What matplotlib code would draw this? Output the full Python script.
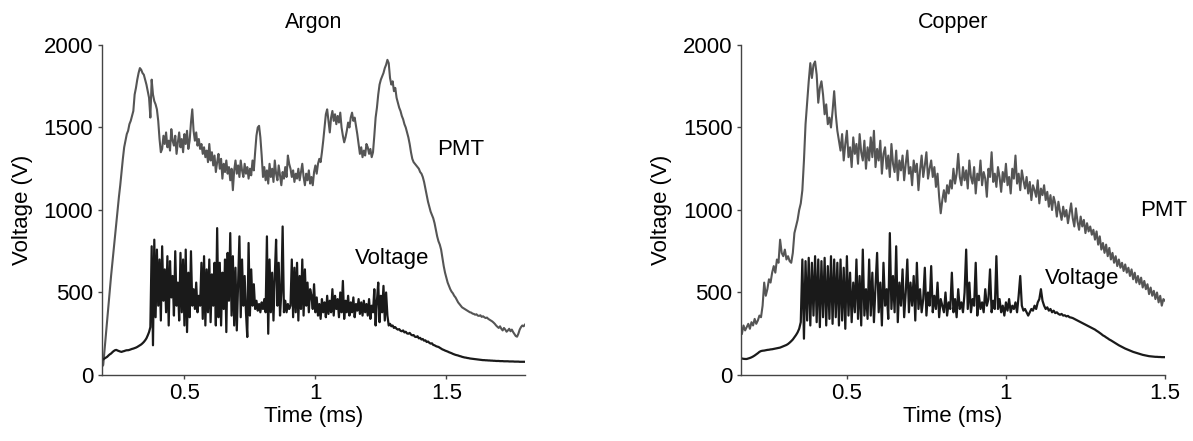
import numpy as np
import matplotlib
matplotlib.use("Agg")
import matplotlib.pyplot as plt
from matplotlib.ticker import FormatStrFormatter

plt.rcParams['font.family'] = ['Liberation Sans', 'DejaVu Sans']

# sampling: one value every 5 us
step = 0.005
argon_t0 = 0.185
copper_t0 = 0.17

# Argon, PMT signal (one row = 0.1 ms)
argon_pmt = [
    50, 60, 150, 240, 330, 420, 510, 600, 680, 760, 840, 920, 1000, 1080, 1150, 1230, 1310, 1380, 1420, 1460,
    1480, 1520, 1540, 1570, 1600, 1700, 1740, 1790, 1830, 1860, 1850, 1830, 1820, 1790, 1760, 1720, 1680, 1560, 1790, 1700,
    1660, 1640, 1610, 1540, 1430, 1350, 1370, 1450, 1400, 1470, 1380, 1420, 1360, 1490, 1420, 1390, 1450, 1340, 1410, 1470,
    1380, 1430, 1350, 1460, 1400, 1480, 1370, 1420, 1530, 1610, 1480, 1420, 1470, 1390, 1430, 1370, 1400, 1340, 1380, 1320,
    1360, 1290, 1400, 1300, 1350, 1270, 1330, 1230, 1290, 1340, 1250, 1310, 1190, 1280, 1230, 1300, 1220, 1260, 1180, 1250,
    1120, 1240, 1300, 1220, 1270, 1200, 1300, 1240, 1200, 1280, 1220, 1260, 1190, 1250, 1210, 1300, 1240, 1350, 1450, 1500,
    1510, 1440, 1330, 1200, 1260, 1180, 1240, 1160, 1280, 1200, 1250, 1170, 1300, 1220, 1180, 1270, 1210, 1150, 1230, 1190,
    1260, 1200, 1330, 1280, 1250, 1200, 1240, 1170, 1220, 1190, 1250, 1180, 1230, 1280, 1200, 1150, 1220, 1180, 1240, 1160,
    1200, 1150, 1230, 1270, 1220, 1280, 1310, 1290, 1350, 1420, 1500, 1580, 1610, 1540, 1470, 1560, 1600, 1540, 1580, 1520,
    1570, 1530, 1590, 1500, 1450, 1410, 1440, 1480, 1530, 1500, 1560, 1590, 1540, 1560, 1510, 1460, 1400, 1340, 1380, 1320,
    1360, 1330, 1400, 1380, 1340, 1370, 1320, 1350, 1450, 1560, 1620, 1700, 1760, 1790, 1810, 1830, 1860, 1880, 1910, 1890,
    1800, 1760, 1780, 1720, 1740, 1680, 1650, 1620, 1600, 1570, 1550, 1520, 1500, 1470, 1440, 1400, 1350, 1310, 1290, 1280,
    1270, 1260, 1250, 1230, 1220, 1200, 1170, 1130, 1090, 1050, 1020, 990, 970, 950, 920, 880, 840, 810, 790, 760,
    710, 660, 620, 590, 560, 540, 520, 505, 495, 480, 470, 455, 440, 430, 420, 410, 405, 400, 395, 390,
    385, 380, 378, 372, 370, 365, 368, 360, 358, 362, 352, 356, 350, 345, 348, 340, 335, 330, 325, 318,
    310, 300, 292, 285, 295, 280, 270, 285, 275, 262, 270, 280, 265, 275, 260, 248, 236, 232, 250, 275,
    290, 300, 295, 305,
]

# Argon, discharge voltage
argon_volt = [
    90, 95, 100, 105, 110, 118, 125, 130, 138, 145, 150, 152, 148, 145, 142, 140, 143, 145, 148, 150,
    150, 152, 155, 158, 160, 163, 166, 170, 175, 180, 185, 192, 200, 210, 222, 240, 260, 290, 780, 180,
    820, 350, 760, 420, 700, 330, 780, 450, 640, 380, 720, 300, 690, 470, 600, 360, 750, 420, 560, 330,
    740, 380, 700, 300, 760, 260, 620, 350, 750, 420, 520, 400, 560, 380, 480, 420, 680, 340, 720, 300,
    640, 380, 700, 320, 610, 420, 680, 300, 890, 350, 680, 300, 620, 400, 700, 260, 740, 450, 860, 360,
    720, 300, 650, 270, 560, 840, 350, 700, 420, 600, 380, 230, 800, 360, 640, 420, 550, 400, 450, 390,
    430, 380, 440, 400, 460, 380, 840, 250, 700, 380, 620, 330, 600, 820, 420, 680, 360, 500, 900, 380,
    450, 380, 430, 400, 420, 700, 350, 650, 380, 680, 330, 600, 400, 700, 360, 640, 420, 560, 380, 520,
    480, 400, 550, 380, 470, 360, 430, 340, 460, 380, 440, 350, 480, 370, 450, 380, 520, 360, 480, 400,
    460, 350, 500, 380, 570, 340, 450, 380, 480, 360, 440, 380, 470, 350, 430, 390, 460, 370, 440, 360,
    450, 380, 430, 360, 460, 340, 420, 380, 520, 300, 450, 560, 320, 480, 380, 540, 330, 500, 360, 300,
    310, 295, 300, 285, 290, 280, 275, 278, 268, 265, 270, 258, 262, 252, 250, 255, 245, 240, 242, 232,
    230, 235, 222, 225, 215, 218, 208, 210, 200, 203, 195, 190, 192, 182, 180, 175, 172, 170, 165, 160,
    155, 152, 148, 145, 142, 138, 135, 132, 128, 125, 122, 120, 118, 115, 113, 110, 108, 106, 105, 103,
    102, 100, 99, 98, 97, 96, 95, 94, 93, 92, 91, 90, 90, 89, 89, 88, 88, 87, 87, 86,
    86, 85, 85, 85, 84, 84, 84, 83, 83, 83, 83, 82, 82, 82, 82, 81, 81, 81, 81, 80,
    80, 80, 80, 80,
]

# Copper, PMT signal
copper_pmt = [
    250, 300, 270, 290, 310, 280, 320, 300, 340, 310, 330, 360, 350, 420, 560, 480, 520, 580, 560, 620,
    660, 620, 700, 680, 820, 740, 720, 760, 700, 720, 690, 680, 740, 860, 900, 940, 1000, 1040, 1120, 1300,
    1520, 1650, 1780, 1890, 1800, 1880, 1900, 1820, 1650, 1740, 1780, 1700, 1580, 1640, 1520, 1560, 1500, 1600, 1720, 1580,
    1480, 1420, 1360, 1460, 1300, 1400, 1480, 1320, 1380, 1260, 1440, 1340, 1400, 1280, 1460, 1350, 1300, 1420, 1250, 1380,
    1300, 1440, 1320, 1480, 1260, 1370, 1300, 1420, 1220, 1340, 1380, 1250, 1330, 1200, 1400, 1280, 1230, 1360, 1180, 1300,
    1240, 1330, 1180, 1280, 1360, 1220, 1260, 1150, 1300, 1230, 1280, 1120, 1240, 1330, 1200, 1270, 1350, 1190, 1250, 1300,
    1200, 1260, 1140, 1220, 1080, 980, 1060, 1120, 1050, 1150, 1100, 1180, 1130, 1250, 1160, 1220, 1340, 1200, 1150, 1260,
    1180, 1240, 1130, 1300, 1200, 1160, 1260, 1100, 1220, 1180, 1300, 1150, 1230, 1190, 1080, 1250, 1200, 1350, 1170, 1220,
    1140, 1260, 1200, 1110, 1230, 1170, 1280, 1150, 1200, 1100, 1250, 1190, 1330, 1160, 1220, 1120, 1240, 1180, 1130, 1200,
    1100, 1170, 1060, 1150, 1120, 1080, 1180, 1040, 1130, 1090, 1150, 1060, 1110, 1020, 1090, 1000, 1080, 1040, 960, 1050,
    990, 940, 1020, 960, 1000, 920, 980, 1040, 950, 900, 1010, 930, 880, 960, 900, 940, 860, 920, 870, 900,
    850, 880, 820, 870, 790, 840, 760, 800, 740, 790, 720, 770, 700, 740, 680, 720, 660, 700, 650, 680,
    630, 670, 620, 650, 600, 640, 580, 620, 560, 600, 550, 590, 530, 570, 520, 550, 490, 530, 480, 510,
    460, 500, 440, 480, 420, 460, 450,
]

# Copper, discharge voltage
copper_volt = [
    100, 98, 97, 97, 100, 103, 107, 112, 118, 125, 132, 140, 145, 147, 148, 150, 152, 153, 155, 156,
    158, 160, 162, 164, 166, 170, 174, 178, 182, 188, 196, 205, 215, 228, 242, 258, 280, 320, 700, 220,
    690, 330, 710, 300, 680, 360, 720, 320, 700, 290, 690, 350, 710, 300, 660, 340, 720, 310, 700, 350,
    680, 300, 700, 330, 650, 280, 720, 360, 620, 320, 560, 380, 700, 340, 600, 300, 760, 360, 520, 340,
    700, 360, 620, 320, 540, 740, 380, 560, 300, 680, 420, 520, 340, 860, 400, 600, 380, 780, 320, 560,
    420, 640, 350, 500, 700, 380, 560, 420, 600, 330, 680, 400, 520, 380, 460, 650, 360, 500, 420, 660,
    380, 480, 400, 560, 350, 460, 420, 380, 500, 360, 440, 400, 620, 380, 460, 350, 520, 400, 440, 380,
    500, 760, 400, 560, 380, 460, 420, 680, 360, 480, 400, 440, 380, 520, 420, 460, 640, 380, 450, 400,
    720, 400, 460, 380, 420, 360, 440, 390, 460, 380, 420, 400, 440, 380, 480, 600, 420, 390, 400, 380,
    360, 380, 400, 390, 420, 400, 440, 460, 520, 450, 420, 400, 410, 390, 400, 380, 390, 375, 380, 370,
    365, 370, 360, 362, 355, 358, 350, 348, 345, 340, 335, 330, 325, 320, 315, 310, 305, 300, 295, 290,
    285, 280, 275, 268, 262, 255, 248, 240, 235, 228, 222, 215, 210, 204, 198, 192, 186, 180, 175, 170,
    165, 160, 156, 152, 148, 144, 140, 137, 134, 131, 128, 125, 122, 120, 118, 116, 114, 113, 112, 111,
    110, 110, 109, 109, 108, 108, 108,
]

pmt_color = '#555555'
volt_color = '#1a1a1a'
axis_color = '#444444'

fig = plt.figure(figsize=(11.93, 4.41), dpi=100)
ax1 = fig.add_axes([0.0852, 0.1497, 0.3548, 0.7483])
ax2 = fig.add_axes([0.6211, 0.1497, 0.3554, 0.7483])

panels = [
    (ax1, 'Argon', argon_t0, argon_pmt, argon_volt, (0.184, 1.80), (1.465, 1364), (1.152, 703)),
    (ax2, 'Copper', copper_t0, copper_pmt, copper_volt, (0.167, 1.50), (1.421, 997), (1.123, 585)),
]

for ax, title, t0, pmt, volt, xlim, pmt_pos, volt_pos in panels:
    t_pmt = t0 + step * np.arange(len(pmt))
    t_volt = t0 + step * np.arange(len(volt))
    ax.plot(t_pmt, pmt, color=pmt_color, lw=1.5)
    ax.plot(t_volt, volt, color=volt_color, lw=1.6)

    ax.set_xlim(*xlim)
    ax.set_ylim(0, 2000)
    ax.set_xticks([0.5, 1, 1.5])
    ax.set_yticks([0, 500, 1000, 1500, 2000])
    ax.xaxis.set_major_formatter(FormatStrFormatter('%g'))
    ax.tick_params(direction='out', length=3, width=1, color=axis_color,
                   labelsize=16, pad=3)
    for side in ['top', 'right']:
        ax.spines[side].set_visible(False)
    for side in ['left', 'bottom']:
        ax.spines[side].set_color(axis_color)
        ax.spines[side].set_linewidth(1)

    ax.set_title(title, fontsize=15.5, pad=12)
    ax.set_xlabel('Time (ms)', fontsize=16, labelpad=1)
    ax.set_ylabel('Voltage (V)', fontsize=16, labelpad=8)
    ax.text(pmt_pos[0], pmt_pos[1], 'PMT', fontsize=16, va='center', ha='left')
    ax.text(volt_pos[0], volt_pos[1], 'Voltage', fontsize=16, va='center', ha='left')

fig.savefig('out.png', dpi=100)
